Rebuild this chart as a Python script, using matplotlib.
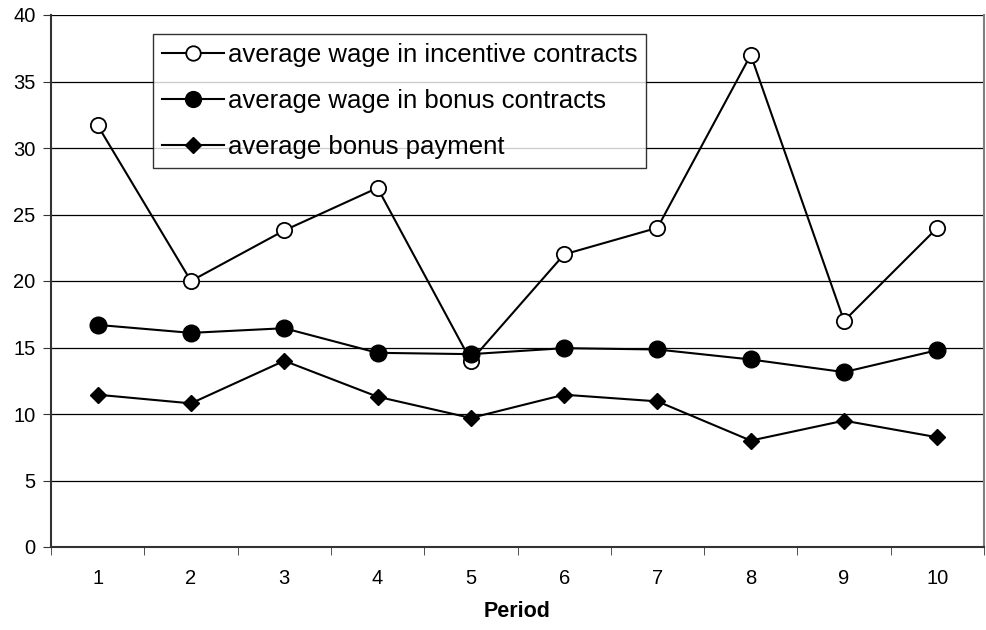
import numpy as np
import matplotlib
matplotlib.use("Agg")
import matplotlib.pyplot as plt

plt.rcParams['font.family'] = ['Liberation Sans', 'DejaVu Sans']

periods = [1, 2, 3, 4, 5, 6, 7, 8, 9, 10]
wage_incentive = [31.7, 20.0, 23.8, 27.0, 14.0, 22.0, 24.0, 37.0, 17.0, 24.0]
wage_bonus = [16.7, 16.1, 16.45, 14.6, 14.5, 14.95, 14.85, 14.1, 13.15, 14.8]
bonus_payment = [11.45, 10.8, 14.0, 11.3, 9.7, 11.45, 10.95, 8.0, 9.5, 8.25]
labels = ['average wage in incentive contracts',
          'average wage in bonus contracts',
          'average bonus payment']

fig = plt.figure(figsize=(9.87, 6.30), dpi=100)
ax = fig.add_axes([51/987, 1-547/630, (984-51)/987, (547-15)/630])

ax.plot(periods, wage_incentive, color='black', lw=1.5, marker='o', ms=11,
        mfc='white', mec='black', mew=1.3, label=labels[0], zorder=3)
ax.plot(periods, wage_bonus, color='black', lw=1.5, marker='o', ms=12,
        mfc='black', mec='black', label=labels[1], zorder=4)
ax.plot(periods, bonus_payment, color='black', lw=1.5, marker='D', ms=8.5,
        mfc='black', mec='black', label=labels[2], zorder=4)

ax.set_xlim(0.5, 10.5)
ax.set_ylim(0, 40)
ax.set_yticks(np.arange(0, 41, 5))
ax.set_xticks(periods)
ax.set_xticks(np.arange(0.5, 11, 1), minor=True)
ax.tick_params(axis='x', which='major', length=0, pad=16, labelsize=14.5)
ax.tick_params(axis='x', which='minor', length=6, direction='out', color='#333333')
ax.tick_params(axis='y', length=6, direction='out', labelsize=14.5, color='#333333', pad=5)
ax.yaxis.grid(True, color='black', lw=0.9)
ax.set_axisbelow(True)

for s in ['left', 'bottom']:
    ax.spines[s].set_color('#333333')
    ax.spines[s].set_linewidth(1.5)
ax.spines['right'].set_color('#808080')
ax.spines['right'].set_linewidth(1.5)
ax.spines['top'].set_visible(False)

ax.set_xlabel('Period', fontsize=15.5, fontweight='bold', labelpad=9)

leg = ax.legend(loc='upper left', bbox_to_anchor=(153/987, 1-34/630),
                bbox_transform=fig.transFigure, fontsize=18.5, frameon=True,
                fancybox=False, edgecolor='black', borderaxespad=0,
                handlelength=2.4, handletextpad=0.15, labelspacing=0.85,
                borderpad=0.35, markerscale=0.95)
leg.get_frame().set_linewidth(1.0)

fig.savefig('out.png', dpi=100)
